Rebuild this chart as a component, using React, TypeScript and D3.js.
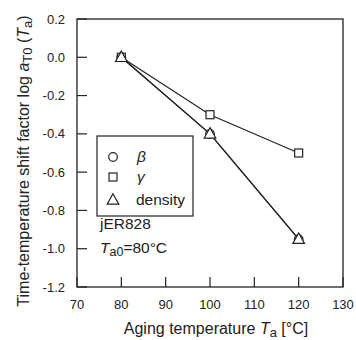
import React from "react";
import * as d3 from "d3";

const temps = [80, 100, 120];
const betaVals = [0, -0.4, -0.95];
const gammaVals = [0, -0.3, -0.5];
const densityVals = [0, -0.4, -0.95];
const xTicks = [70, 80, 90, 100, 110, 120, 130];
const yTicks = [0.2, 0, -0.2, -0.4, -0.6, -0.8, -1.0, -1.2];

const W = 356, H = 340;
const L = 77, R = 343, T = 19, B = 287;

export default function App() {
  const x = d3.scaleLinear().domain([70, 130]).range([L, R]);
  const y = d3.scaleLinear().domain([-1.2, 0.2]).range([B, T]);
  const line = d3.line<number>().x((_, i) => x(temps[i])).y((v) => y(v));
  const font = "'Liberation Sans', Arial, sans-serif";
  const tri = (cx: number, cy: number, s: number) =>
    `M${cx},${cy - s * 0.62}L${cx + s * 0.58},${cy + s * 0.42}L${cx - s * 0.58},${cy + s * 0.42}Z`;
  return (
    <svg width={W} height={H} style={{ position: "absolute", left: 0, top: 0, background: "#fff" }} fontFamily={font}>
      <rect x={L} y={T} width={R - L} height={B - T} fill="none" stroke="#222" strokeWidth={1.3} />
      {xTicks.map((t) => (
        <g key={"x" + t}>
          <line x1={x(t)} x2={x(t)} y1={B} y2={B - 10} stroke="#222" strokeWidth={1.2} />
          <text x={x(t)} y={309} fontSize={13} textAnchor="middle" fill="#222">{t}</text>
        </g>
      ))}
      {yTicks.map((t) => (
        <g key={"y" + t}>
          <line x1={L} x2={L + 10} y1={y(t)} y2={y(t)} stroke="#222" strokeWidth={1.2} />
          <text x={65} y={y(t) + 4.5} fontSize={13} textAnchor="end" fill="#222">{t.toFixed(1)}</text>
        </g>
      ))}
      <path d={line(gammaVals) || ""} fill="none" stroke="#222" strokeWidth={1.2} />
      <path d={line(densityVals) || ""} fill="none" stroke="#222" strokeWidth={1.2} />
      <path d={line(betaVals) || ""} fill="none" stroke="#222" strokeWidth={1.2} />
      {betaVals.map((v, i) => (
        <circle key={"b" + i} cx={x(temps[i])} cy={y(v)} r={4.3} fill="#fff" stroke="#222" strokeWidth={1.2} />
      ))}
      {gammaVals.map((v, i) => (
        <rect key={"g" + i} x={x(temps[i]) - 4} y={y(v) - 4} width={8} height={8} fill="#fff" stroke="#222" strokeWidth={1.2} />
      ))}
      {densityVals.map((v, i) => (
        <path key={"d" + i} d={tri(x(temps[i]), y(v), 10)} fill="#fff" stroke="#222" strokeWidth={1.2} />
      ))}
      <rect x={97} y={136} width={96} height={80} fill="#fff" stroke="#222" strokeWidth={1.2} />
      <circle cx={113} cy={157} r={4.3} fill="#fff" stroke="#222" strokeWidth={1.2} />
      <rect x={109} y={173} width={8} height={8} fill="#fff" stroke="#222" strokeWidth={1.2} />
      <path d={tri(113, 200, 10)} fill="#fff" stroke="#222" strokeWidth={1.2} />
      <text x={137} y={162} fontSize={15.5} fill="#222" fontStyle="italic">β</text>
      <text x={137} y={182} fontSize={15.5} fill="#222" fontStyle="italic">γ</text>
      <text x={136} y={205} fontSize={15.5} fill="#222">density</text>
      <text x={100} y={229} fontSize={15.5} fill="#222">jER828</text>
      <text x={100} y={253} fontSize={15.5} fill="#222">
        <tspan fontStyle="italic">T</tspan>
        <tspan fontSize={12.5} dy={3}>a0</tspan>
        <tspan dy={-3}>=80°C</tspan>
      </text>
      <text x={216} y={334} fontSize={16} textAnchor="middle" fill="#222">
        Aging temperature <tspan fontStyle="italic">T</tspan>
        <tspan fontSize={13} dy={3}>a</tspan>
        <tspan dy={-3}> [°C]</tspan>
      </text>
      <text transform="translate(29,161) rotate(-90)" fontSize={16} textAnchor="middle" fill="#222">
        Time-temperature shift factor log <tspan fontStyle="italic">a</tspan>
        <tspan fontSize={13} dy={3}>T0</tspan>
        <tspan dy={-3}> (</tspan>
        <tspan fontStyle="italic">T</tspan>
        <tspan fontSize={13} dy={3}>a</tspan>
        <tspan dy={-3}>)</tspan>
      </text>
    </svg>
  );
}
